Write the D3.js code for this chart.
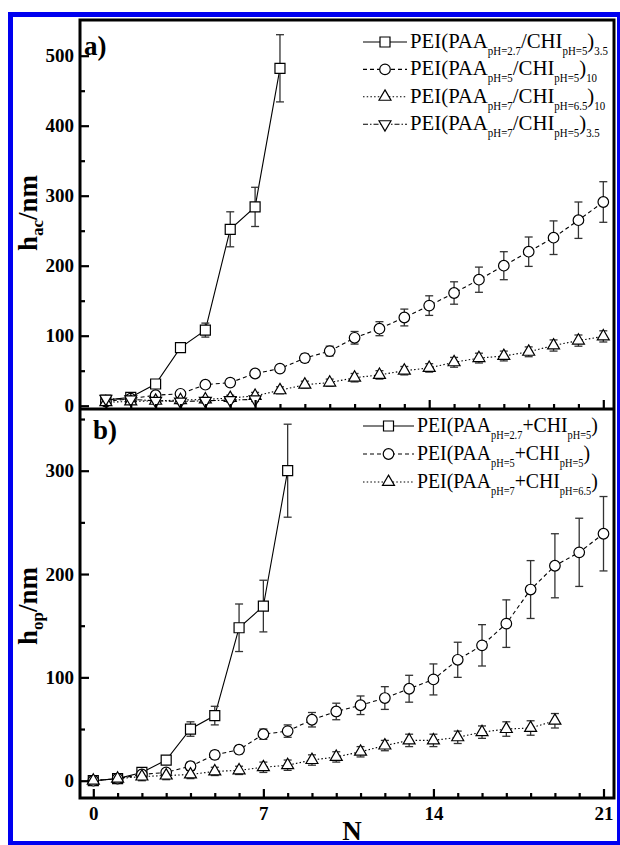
<!DOCTYPE html>
<html><head><meta charset="utf-8">
<script src="https://cdn.jsdelivr.net/npm/d3@7"></script>
<style>body{margin:0;background:#fff} svg{display:block}</style>
</head><body>
<svg id="c" width="620" height="845"></svg>
<script>
// ---------- DATA ----------
// panel a) h_ac
const nA1 = [1,2,3,4,5,6,7,8];
const hA1 = [8,12,31,83,108,252,284,482];
const eA1 = [3,3,5,6,10,25,28,48];
const nA2 = d3.range(1,22);
const hA2 = [6,10,15,17,30,33,46,53,68,78,97,110,126,143,161,180,200,220,240,265,291];
const eA2 = [3,3,3,4,4,5,5,5,6,7,9,10,12,14,16,18,20,21,24,26,29];
const nA3 = d3.range(1,22);
const hA3 = [5,6,7,8,9,11,14,22,30,33,40,44,50,54,62,68,71,77,86,93,99];
const eA3 = [3,3,3,3,3,4,5,5,5,5,6,6,6,6,7,7,7,7,8,8,8];
const nA4 = [1,2,3,4,5,6,7];
const hA4 = [10,9,7,6,7,8,9];
const eA4 = [4,3,3,3,3,3,3];
// panel b) h_op
const nB1 = [0,1,2,3,4,5,6,7,8];
const hB1 = [0,2,8,20,50,63,148,169,300];
const eB1 = [2,3,4,4,7,9,23,25,45];
const nB2 = d3.range(0,22);
const hB2 = [0,2,6,8,14,25,30,45,48,59,67,73,80,89,98,117,131,152,185,208,221,239];
const eB2 = [2,2,3,3,4,4,4,5,6,7,8,9,11,13,15,17,20,23,28,31,33,36];
const nB3 = d3.range(0,20);
const hB3 = [0,2,4,5,6,9,10,13,15,20,23,28,34,39,39,42,47,50,51,58];
const eB3 = [2,3,4,4,4,4,4,5,5,5,5,5,5,6,6,6,6,7,7,7];
// ticks
const xMajor = [0,7,14,21];
const yMajorA = [0,100,200,300,400,500];
const yMinorA = [50,150,250,350,450];
const yMajorB = [0,100,200,300];
const yMinorB = [50,150,250,350];
// legend texts: [text, isSubscript]
const legA = [
  [["PEI(PAA",0],["pH=2.7",1],["/CHI",0],["pH=5",1],[")",0],["3.5",1]],
  [["PEI(PAA",0],["pH=5",1],["/CHI",0],["pH=5",1],[")",0],["10",1]],
  [["PEI(PAA",0],["pH=7",1],["/CHI",0],["pH=6.5",1],[")",0],["10",1]],
  [["PEI(PAA",0],["pH=7",1],["/CHI",0],["pH=5",1],[")",0],["3.5",1]]
];
const legB = [
  [["PEI(PAA",0],["pH=2.7",1],["+CHI",0],["pH=5",1],[")",0]],
  [["PEI(PAA",0],["pH=5",1],["+CHI",0],["pH=5",1],[")",0]],
  [["PEI(PAA",0],["pH=7",1],["+CHI",0],["pH=6.5",1],[")",0]]
];

// ---------- LAYOUT ----------
const svg = d3.select("#c");
const L=80, R=614, T=20, M=409, B=798;
const xA = d3.scaleLinear().domain([0,21]).range([81,603.3]);
const xB = d3.scaleLinear().domain([0,21]).range([93.3,603.5]);
const yA = d3.scaleLinear().domain([0,500]).range([405.7,55.7]);
const yB = d3.scaleLinear().domain([0,300]).range([780.7,470.7]);
const SERIF = "'Liberation Serif','Times New Roman',serif";

const styles = [
  {sym:"square", dash:null},
  {sym:"circle", dash:"4,3"},
  {sym:"tri", dash:"1.5,2.2"},
  {sym:"itri", dash:"5,2,1.5,2"}
];
function symPath(s){
  if(s==="square") return d3.symbol().type(d3.symbolSquare).size(100)();
  if(s==="circle") return d3.symbol().type(d3.symbolCircle).size(88)();
  return d3.symbol().type(d3.symbolTriangle).size(62)();
}
function drawMarker(g, s, x, y){
  g.append("path").attr("d", symPath(s))
   .attr("transform", `translate(${x},${y})` + (s==="itri"?" rotate(180)":""))
   .attr("fill","#fff").attr("stroke","#000").attr("stroke-width",1.2);
}

function drawSeries(gLines, gErr, gMark, xs, ys, ns, hs, es, st){
  const pts = ns.map((n,i)=>[xs(n), ys(hs[i]), ys(hs[i]-es[i]), ys(hs[i]+es[i])]);
  gLines.append("path").attr("d", d3.line()(pts.map(p=>[p[0],p[1]])))
    .attr("fill","none").attr("stroke","#000").attr("stroke-width",1.1)
    .attr("stroke-dasharray", st.dash);
  pts.forEach(p=>{
    gErr.append("line").attr("x1",p[0]).attr("x2",p[0]).attr("y1",p[2]).attr("y2",p[3]);
    gErr.append("line").attr("x1",p[0]-4).attr("x2",p[0]+4).attr("y1",p[2]).attr("y2",p[2]);
    gErr.append("line").attr("x1",p[0]-4).attr("x2",p[0]+4).attr("y1",p[3]).attr("y2",p[3]);
    drawMarker(gMark, st.sym, p[0], p[1]);
  });
}

function panel(xs, ys, series){
  const g = svg.append("g");
  const gl = g.append("g"), ge = g.append("g").attr("stroke","#333").attr("stroke-width",1.3), gm = g.append("g");
  series.forEach((s,i)=>drawSeries(gl,ge,gm,xs,ys,s[0],s[1],s[2],styles[i]));
}
panel(xA, yA, [[nA1,hA1,eA1],[nA2,hA2,eA2],[nA3,hA3,eA3],[nA4,hA4,eA4]]);
panel(xB, yB, [[nB1,hB1,eB1],[nB2,hB2,eB2],[nB3,hB3,eB3]]);

// ---------- AXES ----------
function styleAxis(g){
  g.select(".domain").remove();
  g.selectAll(".tick line").attr("stroke","#000").attr("stroke-width",2.2);
  g.selectAll(".tick text").style("font-family",SERIF).style("font-weight","bold").style("font-size","19px").attr("fill","#000");
}
svg.append("g").attr("transform",`translate(${L},0)`)
  .call(d3.axisLeft(yA).tickValues(yMajorA).tickSize(-9).tickPadding(6).tickFormat(d3.format("d"))).call(styleAxis);
svg.append("g").attr("transform",`translate(${L},0)`)
  .call(d3.axisLeft(yA).tickValues(yMinorA).tickSize(-5).tickFormat("")).call(styleAxis);
svg.append("g").attr("transform",`translate(${L},0)`)
  .call(d3.axisLeft(yB).tickValues(yMajorB).tickSize(-9).tickPadding(6).tickFormat(d3.format("d"))).call(styleAxis);
svg.append("g").attr("transform",`translate(${L},0)`)
  .call(d3.axisLeft(yB).tickValues(yMinorB).tickSize(-5).tickFormat("")).call(styleAxis);
const allN = d3.range(1,22);
svg.append("g").attr("transform",`translate(0,${M})`)
  .call(d3.axisBottom(xA).tickValues(allN.filter(n=>n%7!==0)).tickSize(-5).tickFormat("")).call(styleAxis);
svg.append("g").attr("transform",`translate(0,${M})`)
  .call(d3.axisBottom(xA).tickValues([7,14,21]).tickSize(-9).tickFormat("")).call(styleAxis);
svg.append("g").attr("transform",`translate(0,${B})`)
  .call(d3.axisBottom(xB).tickValues(d3.range(0,22).filter(n=>n%7!==0)).tickSize(-5).tickFormat("")).call(styleAxis);
svg.append("g").attr("transform",`translate(0,${B})`)
  .call(d3.axisBottom(xB).tickValues(xMajor).tickSize(-9).tickPadding(8.5).tickFormat(d3.format("d"))).call(styleAxis);

// frame
svg.append("rect").attr("x",L).attr("y",T).attr("width",R-L).attr("height",B-T)
  .attr("fill","none").attr("stroke","#000").attr("stroke-width",3);
svg.append("line").attr("x1",L).attr("x2",R).attr("y1",M).attr("y2",M).attr("stroke","#000").attr("stroke-width",3.2);

// panel labels
function lbl(x,y,t,size){
  return svg.append("text").attr("x",x).attr("y",y).text(t)
    .style("font-family",SERIF).style("font-weight","bold").style("font-size",size+"px");
}
lbl(84,55,"a)",27);
lbl(93,439,"b)",27);

// y titles
function ytitle(cy, sub){
  const t = svg.append("text").attr("transform",`translate(37,${cy}) rotate(-90)`).attr("text-anchor","middle")
    .style("font-family",SERIF).style("font-weight","bold").style("font-size","27px");
  t.append("tspan").text("h");
  t.append("tspan").text(sub).attr("dy",6).style("font-size","17px");
  t.append("tspan").text("/nm").attr("dy",-6);
}
ytitle(213,"ac");
ytitle(606,"op");

// legends
function legend(rows, x0, x1, xt, y0, dy, targetW){
  const g = svg.append("g");
  let scale = null;
  rows.forEach((parts,i)=>{
    const y = y0 + i*dy;
    const st = styles[i];
    g.append("line").attr("x1",x0).attr("x2",x1).attr("y1",y-6).attr("y2",y-6)
      .attr("stroke","#000").attr("stroke-width",1.1).attr("stroke-dasharray",st.dash);
    drawMarker(g, st.sym, (x0+x1)/2, y-6);
    const tg = g.append("g");
    const t = tg.append("text").attr("x",0).attr("y",0)
      .style("font-family",SERIF).style("font-size","22px").attr("fill","#000");
    let sub=false;
    parts.forEach(([s,isSub])=>{
      const ts = t.append("tspan").text(s);
      if(isSub){ ts.style("font-size","11.5px"); if(!sub) ts.attr("dy",7); }
      else if(sub) ts.attr("dy",-7);
      sub = !!isSub;
    });
    if(scale===null){ scale = targetW / t.node().getComputedTextLength(); }
    tg.attr("transform",`translate(${xt},${y}) scale(${scale},1)`);
  });
}
legend(legA, 363, 407, 410, 48, 27.4, 198);
legend(legB, 363, 414, 417, 432, 28, 181);

// blue outer border
svg.append("rect").attr("x",10.5).attr("y",14.5).attr("width",609).attr("height",829)
  .attr("fill","none").attr("stroke","#0000f0").attr("stroke-width",5);

// x title (drawn above border so it stays visible)
lbl(352,840,"N",27).attr("text-anchor","middle");
</script>
</body></html>
